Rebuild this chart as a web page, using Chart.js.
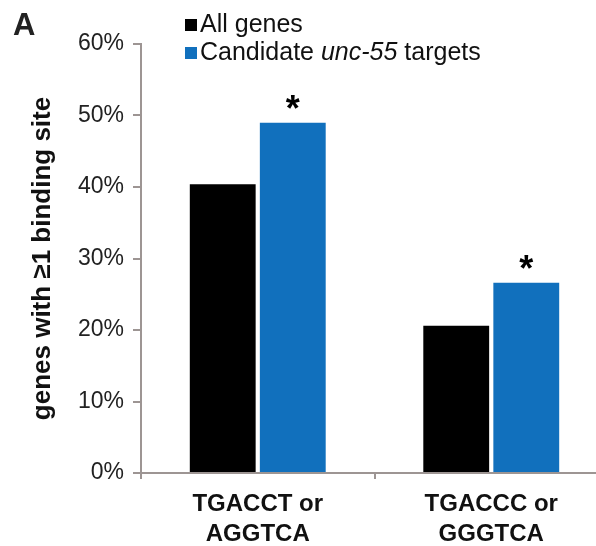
<!DOCTYPE html>
<html>
<head>
<meta charset="utf-8">
<script src="https://cdn.jsdelivr.net/npm/chart.js@4"></script>
<style>
  html, body { margin: 0; padding: 0; background: #fff; overflow: hidden; }
  #chart { display: block; }
</style>
</head>
<body>
<canvas id="chart" width="608" height="546" style="width:608px;height:546px"></canvas>
<script>
// values (percent of genes)
const categories = [['TGACCT or', 'AGGTCA'], ['TGACCC or', 'GGGTCA']];
const allGenes = [40.4, 20.6];
const candidateTargets = [49.0, 26.6];
const significant = [true, true];
const seriesNames = ['All genes', 'Candidate unc-55 targets'];
const italicTerm = 'unc-55';
const yTicks = [0, 10, 20, 30, 40, 50, 60];

const axisGray = '#9d9593';
const blue = '#1170bd';
const font = '"Liberation Sans", Arial, Helvetica, sans-serif';

// legend, panel letter and asterisks drawn on top of the chart
const annotate = {
    id: 'annotate',
    afterDatasetsDraw(chart) {
        const ctx = chart.ctx;
        const meta = chart.getDatasetMeta(1);
        ctx.save();
        ctx.fillStyle = '#000';
        ctx.font = 'bold 36px ' + font;
        ctx.textAlign = 'center';
        ctx.textBaseline = 'alphabetic';
        meta.data.forEach((bar, i) => {
            if (significant[i]) ctx.fillText('*', bar.x, bar.y - 2);
        });
        ctx.restore();
    },
    afterDraw(chart) {
        const ctx = chart.ctx;
        ctx.save();
        ctx.textBaseline = 'alphabetic';
        ctx.textAlign = 'left';
        // panel letter
        ctx.fillStyle = '#222';
        ctx.font = 'bold 31px ' + font;
        ctx.fillText('A', 13, 35);
        // legend
        chart.data.datasets.forEach((ds, i) => {
            const y = 32 + i * 28;
            ctx.fillStyle = ds.backgroundColor;
            ctx.fillRect(185, y - 13, 12, 12);
            ctx.fillStyle = '#111';
            let x = 200;
            const parts = ds.label.split(italicTerm);
            parts.forEach((p, j) => {
                ctx.font = '25px ' + font;
                ctx.fillText(p, x, y);
                x += ctx.measureText(p).width;
                if (j < parts.length - 1) {
                    ctx.font = 'italic 25px ' + font;
                    ctx.fillText(italicTerm, x, y);
                    x += ctx.measureText(italicTerm).width;
                }
            });
        });
        ctx.restore();
    }
};

const data = {
    labels: categories,
    datasets: [
        {
            label: seriesNames[0],
            data: allGenes,
            backgroundColor: '#000000',
        },
        {
            label: seriesNames[1],
            data: candidateTargets,
            backgroundColor: blue,
        }
    ],
};

const config = {
    type: 'bar',
    data: data,
    options: {
        responsive: false,
        animation: false,
        categoryPercentage: 0.6,
        barPercentage: 0.94,
        layout: { padding: { top: 44, left: 0, right: 0, bottom: 0 } },
        plugins: {
            legend: { display: false },
            tooltip: { enabled: false },
        },
        scales: {
            x: {
                grid: {
                    offset: true,
                    drawOnChartArea: false,
                    color: axisGray,
                    lineWidth: 2,
                    tickLength: 6,
                },
                border: { color: axisGray, width: 2 },
                ticks: {
                    color: '#111',
                    padding: 10,
                    font: { family: font, size: 24, weight: 'bold', lineHeight: 1.25 },
                },
                afterFit(scale) { scale.height = 73; },
            },
            y: {
                min: 0,
                max: 60,
                afterBuildTicks(scale) {
                    scale.ticks = yTicks.map(v => ({ value: v }));
                },
                grid: {
                    drawOnChartArea: false,
                    color: axisGray,
                    lineWidth: 2,
                    tickLength: 8,
                },
                border: { color: axisGray, width: 2 },
                ticks: {
                    color: '#222',
                    padding: 9,
                    font: { family: font, size: 23 },
                    callback: v => v + '%',
                },
                title: {
                    display: true,
                    text: 'genes with \u22651 binding site',
                    color: '#111',
                    font: { family: font, size: 26, weight: 'bold', lineHeight: 1.2 },
                    padding: { top: 27, bottom: 0 },
                },
                afterFit(scale) { scale.width = 141; },
            },
        },
    },
    plugins: [annotate],
};

const chart = new Chart(document.getElementById('chart'), config);
</script>
</body>
</html>
